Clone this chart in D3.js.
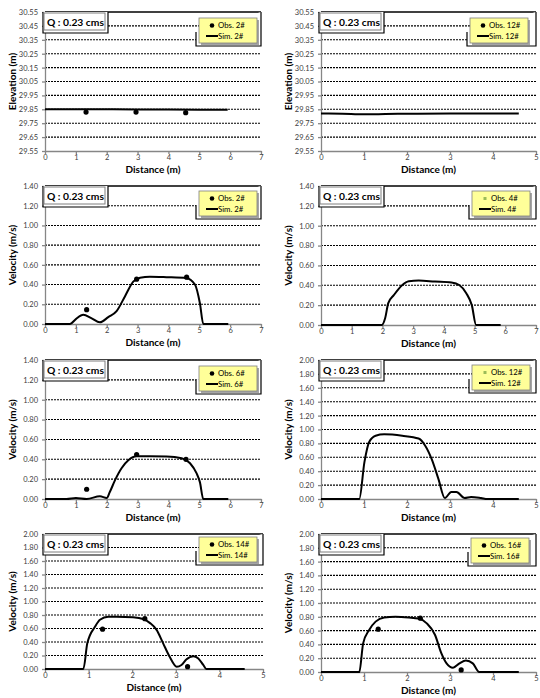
<!DOCTYPE html>
<html>
<head>
<meta charset="utf-8">
<script src="https://cdn.jsdelivr.net/npm/d3@7"></script>
<style>
  body { margin: 0; background: #fff; }
  svg { display: block; }
</style>
</head>
<body>
<svg id="chart" width="540" height="698"></svg>
<script>
// tick values
const elevTicks = [29.55, 29.65, 29.75, 29.85, 29.95, 30.05, 30.15, 30.25, 30.35, 30.45, 30.55];
const vel14Ticks = [0, 0.2, 0.4, 0.6, 0.8, 1.0, 1.2, 1.4];
const vel20Ticks = [0, 0.2, 0.4, 0.6, 0.8, 1.0, 1.2, 1.4, 1.6, 1.8, 2.0];

// section 2# - elevation
const elev2SimX = [0, 1, 2, 3, 4, 5, 5.92];
const elev2SimY = [29.85, 29.85, 29.85, 29.849, 29.848, 29.847, 29.846];
const elev2ObsX = [1.33, 2.95, 4.56];
const elev2ObsY = [29.83, 29.83, 29.826];

// section 12# - elevation
const elev12SimX = [0, 0.5, 1.0, 1.5, 2, 3, 4, 4.6];
const elev12SimY = [29.82, 29.818, 29.814, 29.816, 29.818, 29.82, 29.82, 29.82];

// velocity 2#
const vel2SimX = [0, 0.81, 1.0, 1.24, 1.5, 1.78, 2.05, 2.32, 2.59, 2.86, 3.08, 3.4, 3.94, 4.59, 4.86, 5.02, 5.13, 5.94];
const vel2SimY = [0, 0, 0.05, 0.094, 0.06, 0.017, 0.07, 0.13, 0.28, 0.43, 0.47, 0.48, 0.475, 0.465, 0.40, 0.21, 0, 0];
const vel2ObsX = [1.35, 2.97, 4.59];
const vel2ObsY = [0.145, 0.455, 0.475];

// velocity 4#
const vel4SimX = [0, 1.98, 2.09, 2.19, 2.37, 2.64, 2.86, 3.18, 3.71, 4.25, 4.51, 4.73, 4.91, 5.05, 5.85];
const vel4SimY = [0, 0, 0.07, 0.22, 0.30, 0.40, 0.44, 0.447, 0.437, 0.427, 0.40, 0.32, 0.20, 0, 0];

// velocity 6#
const vel6SimX = [0, 0.7, 1.0, 1.35, 1.78, 2.0, 2.1, 2.27, 2.48, 2.7, 2.97, 3.4, 3.94, 4.43, 4.7, 4.91, 5.02, 5.13, 5.94];
const vel6SimY = [0, 0, 0.01, 0, 0.027, 0.01, 0.07, 0.19, 0.31, 0.39, 0.43, 0.43, 0.428, 0.41, 0.36, 0.26, 0.17, 0, 0];
const vel6ObsX = [1.35, 2.97, 4.57];
const vel6ObsY = [0.098, 0.448, 0.40];

// velocity 12#
const vel12SimX = [0, 0.89, 1.01, 1.12, 1.27, 1.47, 1.89, 2.27, 2.42, 2.57, 2.73, 2.88, 3.03, 3.15, 3.34, 3.49, 3.72, 3.87, 4.6];
const vel12SimY = [0, 0, 0.53, 0.82, 0.91, 0.93, 0.91, 0.87, 0.77, 0.58, 0.29, 0.015, 0.10, 0.10, 0.015, 0.03, 0.015, 0, 0];

// velocity 14#
const vel14SimX = [0, 0.88, 0.97, 1.15, 1.26, 1.45, 1.64, 2.02, 2.25, 2.41, 2.56, 2.71, 2.86, 3.02, 3.13, 3.24, 3.40, 3.51, 3.63, 3.70, 4.58];
const vel14SimY = [0, 0, 0.38, 0.63, 0.73, 0.775, 0.775, 0.765, 0.74, 0.68, 0.58, 0.38, 0.18, 0.035, 0.06, 0.14, 0.19, 0.16, 0.06, 0, 0];
const vel14ObsX = [1.32, 2.29, 3.27];
const vel14ObsY = [0.59, 0.745, 0.035];

// velocity 16#
const vel16SimX = [0, 0.89, 0.98, 1.12, 1.27, 1.47, 1.73, 2.04, 2.27, 2.46, 2.65, 2.80, 2.92, 3.07, 3.22, 3.37, 3.53, 3.68, 4.6];
const vel16SimY = [0, 0, 0.415, 0.61, 0.73, 0.79, 0.80, 0.79, 0.775, 0.705, 0.54, 0.27, 0.125, 0.063, 0.125, 0.165, 0.125, 0, 0];
const vel16ObsX = [1.33, 2.31, 3.26];
const vel16ObsY = [0.62, 0.78, 0.03];

const FONT = "Lato, 'Liberation Sans', sans-serif";
const svg = d3.select("#chart");

function zip(xs, ys) { return xs.map(function(d, i) { return [d, ys[i]]; }); }

const panels = [
  { x0: 45, x1: 261, yTop: 12, yBot: 151, xMax: 7, yTicks: elevTicks, yLabel: "Elevation (m)",
    sim: zip(elev2SimX, elev2SimY), obs: zip(elev2ObsX, elev2ObsY), id: "2#", lx: 199, ly: 18, obsMark: "dot" },
  { x0: 321, x1: 536, yTop: 12, yBot: 151, xMax: 5, yTicks: elevTicks, yLabel: "Elevation (m)",
    sim: zip(elev12SimX, elev12SimY), obs: [], id: "12#", lx: 470, ly: 18, obsMark: "dot" },
  { x0: 45, x1: 261, yTop: 186, yBot: 324, xMax: 7, yTicks: vel14Ticks, yLabel: "Velocity (m/s)",
    sim: zip(vel2SimX, vel2SimY), obs: zip(vel2ObsX, vel2ObsY), id: "2#", lx: 199, ly: 191, obsMark: "dot" },
  { x0: 321, x1: 536, yTop: 186, yBot: 325, xMax: 7, yTicks: vel14Ticks, yLabel: "Velocity (m/s)",
    sim: zip(vel4SimX, vel4SimY), obs: [], id: "4#", lx: 472, ly: 191, obsMark: "square" },
  { x0: 45, x1: 261, yTop: 360, yBot: 499, xMax: 7, yTicks: vel14Ticks, yLabel: "Velocity (m/s)",
    sim: zip(vel6SimX, vel6SimY), obs: zip(vel6ObsX, vel6ObsY), id: "6#", lx: 199, ly: 366, obsMark: "dot" },
  { x0: 321, x1: 536, yTop: 360, yBot: 499, xMax: 5, yTicks: vel20Ticks, yLabel: "Velocity (m/s)",
    sim: zip(vel12SimX, vel12SimY), obs: [], id: "12#", lx: 472, ly: 365, obsMark: "square" },
  { x0: 45, x1: 263, yTop: 534, yBot: 669, xMax: 5, yTicks: vel20Ticks, yLabel: "Velocity (m/s)",
    sim: zip(vel14SimX, vel14SimY), obs: zip(vel14ObsX, vel14ObsY), id: "14#", lx: 199, ly: 537, obsMark: "dot" },
  { x0: 321, x1: 536, yTop: 534, yBot: 672, xMax: 5, yTicks: vel20Ticks, yLabel: "Velocity (m/s)",
    sim: zip(vel16SimX, vel16SimY), obs: zip(vel16ObsX, vel16ObsY), id: "16#", lx: 471, ly: 538, obsMark: "dot" }
];

function drawPanel(p) {
  const g = svg.append("g");
  const yMin = p.yTicks[0], yMax = p.yTicks[p.yTicks.length - 1];
  const x = d3.scaleLinear().domain([0, p.xMax]).range([p.x0, p.x1]);
  const y = d3.scaleLinear().domain([yMin, yMax]).range([p.yBot, p.yTop]);

  // dotted gridlines
  g.selectAll("line.grid")
    .data(p.yTicks.slice(1, -1))
    .join("line")
      .attr("x1", p.x0).attr("x2", p.x1)
      .attr("y1", function(d) { return y(d); })
      .attr("y2", function(d) { return y(d); })
      .attr("stroke", "#000")
      .attr("stroke-width", 1.1)
      .attr("stroke-dasharray", "2,1");

  // top border of plot area
  g.append("line")
    .attr("x1", p.x0).attr("x2", p.x1)
    .attr("y1", p.yTop).attr("y2", p.yTop)
    .attr("stroke", "#000").attr("stroke-width", 1.5);

  // axes
  const xAxis = d3.axisBottom(x).ticks(p.xMax).tickSize(3).tickSizeOuter(0)
                  .tickPadding(1).tickFormat(d3.format("d"));
  const yAxis = d3.axisLeft(y).tickValues(p.yTicks).tickSize(3).tickSizeOuter(0)
                  .tickPadding(4).tickFormat(d3.format(".2f"));

  g.append("g").attr("transform", "translate(0," + p.yBot + ")").call(xAxis);
  g.append("g").attr("transform", "translate(" + p.x0 + ",0)").call(yAxis);

  g.selectAll(".domain, .tick line").attr("stroke", "#868686").attr("stroke-width", 1.3);
  g.selectAll(".tick text")
    .attr("fill", "#404040")
    .style("font-family", FONT)
    .style("font-size", "7.5px");

  // simulated line
  const line = d3.line()
    .x(function(d) { return x(d[0]); })
    .y(function(d) { return y(d[1]); })
    .curve(d3.curveMonotoneX);

  g.append("path")
    .datum(p.sim)
    .attr("d", line)
    .attr("fill", "none")
    .attr("stroke", "#000")
    .attr("stroke-width", 2);

  // observed points
  g.selectAll("circle.obs")
    .data(p.obs)
    .join("circle")
      .attr("cx", function(d) { return x(d[0]); })
      .attr("cy", function(d) { return y(d[1]); })
      .attr("r", 2.6)
      .attr("fill", "#000");

  // axis titles
  g.append("text")
    .attr("x", (p.x0 + p.x1) / 2)
    .attr("y", p.yBot + 22)
    .attr("text-anchor", "middle")
    .style("font-family", FONT).style("font-weight", "bold").style("font-size", "10px")
    .text("Distance (m)");

  g.append("text")
    .attr("transform", "translate(" + (p.x0 - 29) + "," + ((p.yTop + p.yBot) / 2) + ") rotate(-90)")
    .attr("text-anchor", "middle")
    .style("font-family", FONT).style("font-weight", "bold").style("font-size", "10px")
    .text(p.yLabel);

  // Q label box
  g.append("path")
    .attr("d", "M" + (p.x0 - 2) + "," + p.yTop + "V" + (p.yTop + 21) + "H" + (p.x0 + 63) + "V" + p.yTop)
    .attr("fill", "#fff").attr("stroke", "#000").attr("stroke-width", 1.2);
  g.append("rect")
    .attr("x", p.x0 - 1).attr("y", p.yTop + 1)
    .attr("width", 61).attr("height", 17)
    .attr("fill", "#fff").attr("stroke", "#7f7f7f").attr("stroke-width", 1);
  g.append("text")
    .attr("x", p.x0 + 2).attr("y", p.yTop + 13.5)
    .style("font-family", FONT).style("font-weight", "bold").style("font-size", "10.3px")
    .text("Q : 0.23 cms");

  // legend
  const lw = 58, lh = 25;
  g.append("path")
    .attr("d", "M" + (p.lx - 3) + "," + (p.ly + 14) + "V" + (p.ly + lh + 3) + "H" + p.x1 + "V" + p.yTop)
    .attr("fill", "#fff").attr("stroke", "#000").attr("stroke-width", 1.2);
  g.append("rect")
    .attr("x", p.lx + 2).attr("y", p.ly + 2)
    .attr("width", lw).attr("height", lh)
    .attr("fill", "#a6a6a6");
  g.append("rect")
    .attr("x", p.lx).attr("y", p.ly)
    .attr("width", lw).attr("height", lh)
    .attr("fill", "#ffff99").attr("stroke", "#7f7f7f").attr("stroke-width", 0.8);

  if (p.obsMark === "dot") {
    g.append("circle")
      .attr("cx", p.lx + 13).attr("cy", p.ly + 7.5).attr("r", 2.3).attr("fill", "#000");
  } else {
    g.append("rect")
      .attr("x", p.lx + 11.5).attr("y", p.ly + 6).attr("width", 3).attr("height", 3)
      .attr("fill", "#9bbb59");
  }
  g.append("line")
    .attr("x1", p.lx + 7).attr("x2", p.lx + 19)
    .attr("y1", p.ly + 18).attr("y2", p.ly + 18)
    .attr("stroke", "#000").attr("stroke-width", 2);

  const labels = ["Obs. " + p.id, "Sim. " + p.id];
  g.selectAll("text.leg")
    .data(labels)
    .join("text")
      .attr("x", p.lx + 19)
      .attr("y", function(d, i) { return p.ly + 10 + 10.5 * i; })
      .style("font-family", FONT).style("font-size", "7.8px")
      .attr("fill", "#000")
      .text(function(d) { return d; });
}

panels.forEach(drawPanel);
</script>
</body>
</html>
